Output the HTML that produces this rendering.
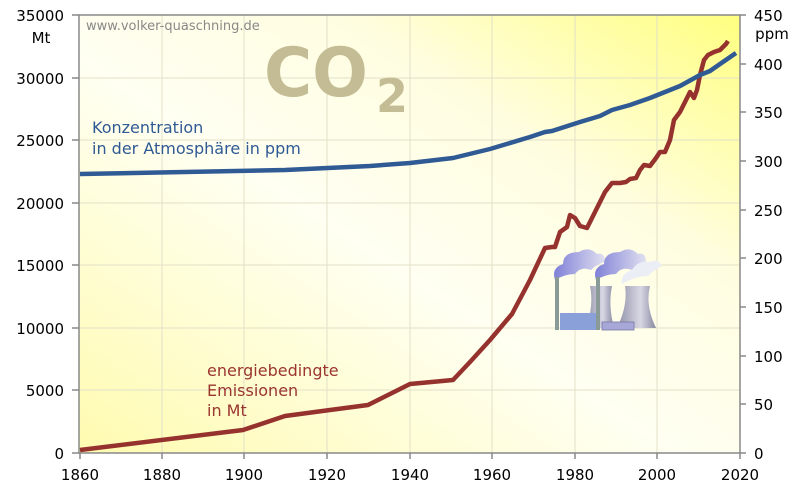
<!DOCTYPE html>
<html><head><meta charset="utf-8"><style>
body{margin:0;background:#fff;}
svg{display:block;font-family:"DejaVu Sans","Liberation Sans",sans-serif;}
</style></head><body>
<svg width="799" height="489" viewBox="0 0 799 489">
<defs>
<linearGradient id="bg" x1="0" y1="1" x2="1" y2="0">
<stop offset="0" stop-color="#fffbb0"/>
<stop offset="0.45" stop-color="#fffff2"/>
<stop offset="0.7" stop-color="#fffde0"/>
<stop offset="1" stop-color="#ffff80"/>
</linearGradient>
<linearGradient id="cl" x1="0" y1="0" x2="1" y2="0"><stop offset="0" stop-color="#8080d8"/><stop offset="1" stop-color="#e0e0f0"/></linearGradient>
<linearGradient id="tw" x1="0" y1="0" x2="1" y2="0"><stop offset="0" stop-color="#9090a8"/><stop offset="0.6" stop-color="#d8d8e4"/><stop offset="1" stop-color="#8888a0"/></linearGradient>
</defs>
<rect x="79" y="15" width="661" height="438" fill="url(#bg)"/>
<g stroke="#e2e0c8" stroke-width="1">
<line x1="162" y1="15" x2="162" y2="453"/><line x1="244" y1="15" x2="244" y2="453"/><line x1="327" y1="15" x2="327" y2="453"/><line x1="410" y1="15" x2="410" y2="453"/><line x1="492" y1="15" x2="492" y2="453"/><line x1="575" y1="15" x2="575" y2="453"/><line x1="657" y1="15" x2="657" y2="453"/>
<line x1="79" y1="78" x2="740" y2="78"/><line x1="79" y1="140" x2="740" y2="140"/><line x1="79" y1="203" x2="740" y2="203"/><line x1="79" y1="265" x2="740" y2="265"/><line x1="79" y1="328" x2="740" y2="328"/><line x1="79" y1="390" x2="740" y2="390"/>
</g>
<rect x="79" y="15" width="661" height="438" fill="none" stroke="#888" stroke-width="1.5"/>
<g stroke="#888" stroke-width="1.5">
<line x1="72" y1="15" x2="79" y2="15"/><line x1="72" y1="78" x2="79" y2="78"/><line x1="72" y1="140" x2="79" y2="140"/><line x1="72" y1="203" x2="79" y2="203"/><line x1="72" y1="265" x2="79" y2="265"/><line x1="72" y1="328" x2="79" y2="328"/><line x1="72" y1="390" x2="79" y2="390"/><line x1="72" y1="453" x2="79" y2="453"/>
<line x1="740" y1="15" x2="746" y2="15"/><line x1="740" y1="64" x2="746" y2="64"/><line x1="740" y1="112" x2="746" y2="112"/><line x1="740" y1="161" x2="746" y2="161"/><line x1="740" y1="210" x2="746" y2="210"/><line x1="740" y1="258" x2="746" y2="258"/><line x1="740" y1="307" x2="746" y2="307"/><line x1="740" y1="356" x2="746" y2="356"/><line x1="740" y1="404" x2="746" y2="404"/><line x1="740" y1="453" x2="746" y2="453"/>
<line x1="80" y1="453" x2="80" y2="459"/><line x1="162" y1="453" x2="162" y2="459"/><line x1="244" y1="453" x2="244" y2="459"/><line x1="327" y1="453" x2="327" y2="459"/><line x1="410" y1="453" x2="410" y2="459"/><line x1="492" y1="453" x2="492" y2="459"/><line x1="575" y1="453" x2="575" y2="459"/><line x1="657" y1="453" x2="657" y2="459"/><line x1="740" y1="453" x2="740" y2="459"/>
</g>
<g font-size="15" fill="#000" text-anchor="end">
<text x="64" y="21">35000</text><text x="64" y="84">30000</text><text x="64" y="146">25000</text><text x="64" y="209">20000</text><text x="64" y="271">15000</text><text x="64" y="334">10000</text><text x="64" y="396">5000</text><text x="64" y="459">0</text>
</g>
<text x="41" y="43" font-size="15" text-anchor="middle">Mt</text>
<g font-size="15" fill="#000" text-anchor="start">
<text x="754" y="21">450</text><text x="754" y="70">400</text><text x="754" y="118">350</text><text x="754" y="167">300</text><text x="754" y="216">250</text><text x="754" y="264">200</text><text x="754" y="313">150</text><text x="754" y="362">100</text><text x="754" y="410">50</text><text x="754" y="459">0</text>
</g>
<text x="772" y="39" font-size="15" text-anchor="middle">ppm</text>
<g font-size="15" text-anchor="middle">
<text x="80" y="480">1860</text><text x="162" y="480">1880</text><text x="244" y="480">1900</text><text x="327" y="480">1920</text><text x="410" y="480">1940</text><text x="492" y="480">1960</text><text x="575" y="480">1980</text><text x="657" y="480">2000</text><text x="740" y="480">2020</text>
</g>
<text x="86" y="30" font-size="13" fill="#888">www.volker-quaschning.de</text>
<text x="264" y="96" font-size="68" font-weight="bold" fill="#c4bc94" font-family="DejaVu Sans,sans-serif" textLength="104" lengthAdjust="spacingAndGlyphs">CO</text>
<text x="376" y="112" font-size="46" font-weight="bold" fill="#c4bc94" font-family="DejaVu Sans,sans-serif">2</text>
<text x="92" y="133" font-size="16" fill="#2f5a94">Konzentration</text>
<text x="92" y="154" font-size="16" fill="#2f5a94">in der Atmosphäre in ppm</text>
<text x="207" y="376" font-size="16" fill="#9a3530">energiebedingte</text>
<text x="207" y="396" font-size="16" fill="#9a3530">Emissionen</text>
<text x="207" y="416" font-size="16" fill="#9a3530">in Mt</text>
<!-- power plant -->
<g>
<path d="M555,280 q-4,-12 8,-16 q0,-12 16,-12 q10,-6 18,2 q8,-2 8,8 q-8,2 -14,8 q-10,-4 -16,4 q-10,0 -20,6z" fill="url(#cl)"/>
<path d="M596,280 q-4,-12 8,-16 q0,-12 16,-12 q10,-6 18,2 q8,-2 8,8 q-8,2 -14,8 q-10,-4 -16,4 q-10,0 -20,6z" fill="url(#cl)"/>
<path d="M622,284 q-2,-10 10,-14 q6,-10 18,-8 q8,-4 12,4 q-8,4 -14,10 q-12,0 -26,8z" fill="#eceef6"/>
<path d="M590,286 L612,286 Q608,305 614,328 L586,328 Q594,305 590,286z" fill="url(#tw)"/>
<path d="M625,286 L650,286 Q645,305 656,328 L617,328 Q628,305 625,286z" fill="url(#tw)"/>
<rect x="555" y="277" width="4" height="53" fill="#8a9a96"/>
<rect x="596" y="277" width="4" height="53" fill="#8a9a96"/>
<rect x="560" y="313" width="36" height="17" fill="#8aa0d8"/>
<rect x="602" y="322" width="32" height="8" fill="#a8a8d8" stroke="#7878a8" stroke-width="0.8"/>
</g>
<polyline fill="none" stroke="#96322e" stroke-width="4.5" stroke-linejoin="round" points="80,450 243,430 285,416 330,410 368,405 410,384 453,380 470,362 490,340 512,314 530,280 545,248 552,247 555,247 560,232 567,227 570,215 575,218 580,226 587,228 592,218 600,202 605,192 612,183 620,183 626,182 630,179 636,178 640,170 644,165 650,166 656,158 660,152 665,152 670,140 674,120 680,112 686,100 690,92 694,98 697,90 700,75 704,60 708,55 714,52 720,50 726,44 728,41"/>
<polyline fill="none" stroke="#2f5a94" stroke-width="4.5" stroke-linejoin="round" points="80,174 285,170 370,166 410,163 453,158 490,149 530,137 545,132 552,131 580,122 600,116 612,110 630,105 650,98 660,94 680,86 700,75 710,71 720,64 736,53"/>
</svg>
</body></html>
